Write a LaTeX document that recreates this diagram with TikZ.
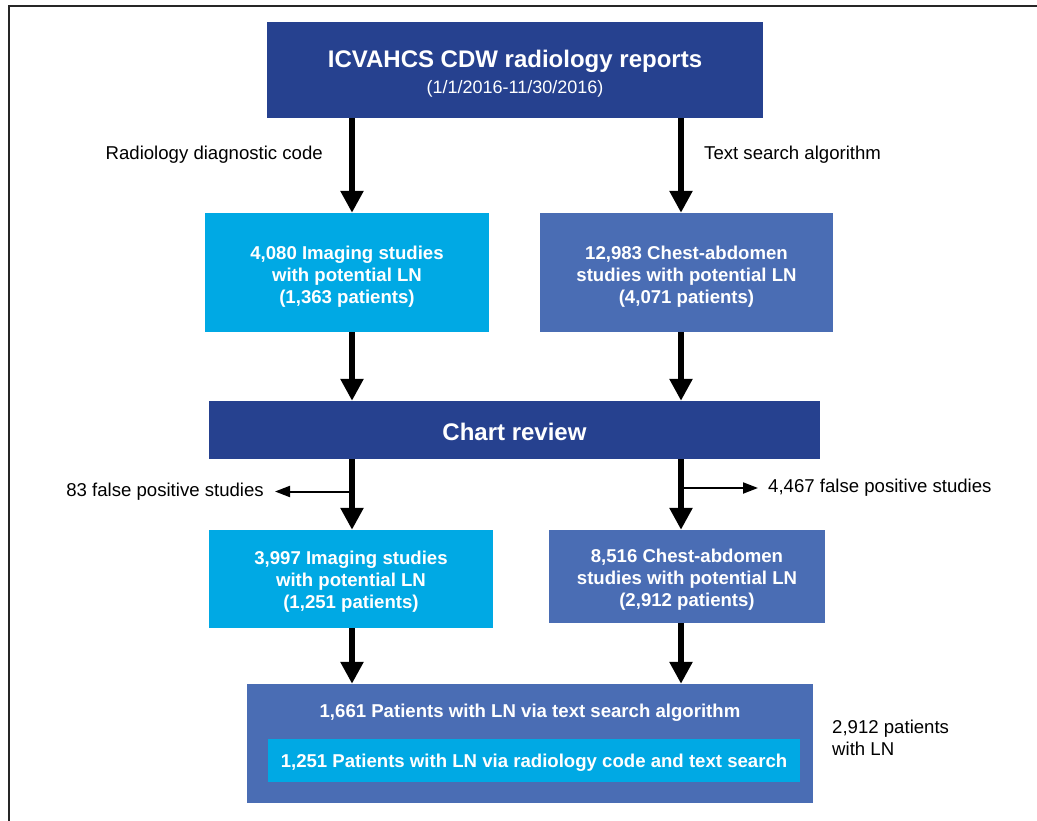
\documentclass[tikz,border=0pt]{standalone}
\usepackage{fontspec}
\setmainfont{Liberation Sans}
\usepackage{xcolor}
\usepackage{tikz}
\usetikzlibrary{arrows.meta,positioning}
\definecolor{navy}{HTML}{26418F}
\definecolor{aqua}{HTML}{00A9E4}
\definecolor{steel}{HTML}{4A6DB4}
\newcommand{\topstrut}[1]{\rule{0pt}{#1}}
\tikzset{
  box/.style={fill=#1,text=white,align=center,inner sep=0pt,
    font=\bfseries\fontsize{18.6}{22}\selectfont},
  flow/.style={line width=6pt,-{Triangle[length=22pt,width=22pt]}},
  side/.style={line width=2pt,-{Triangle[length=15pt,width=11pt]}},
  note/.style={inner sep=0pt,font=\fontsize{18.6}{22}\selectfont}
}

\begin{document}
\begin{tikzpicture}[x=1pt,y=-1pt]
  \useasboundingbox (0,0) rectangle (1037,821);
  \draw[line width=1.6pt,black!85] (9,821) -- (9,6) -- (1037,6);

  \node[box=navy,minimum width=496pt,minimum height=96pt] (src) at (515,70)
    {\fontsize{24}{28}\selectfont\topstrut{24.5pt}ICVAHCS CDW radiology reports\\[4pt]
     {\mdseries\fontsize{18}{20}\selectfont (1/1/2016-11/30/2016)}};

  \node[box=aqua,minimum width=284pt,minimum height=119pt] (codeA) at (347,272.5)
    {\topstrut{22pt}4,080 Imaging studies\\with potential LN\\(1,363 patients)};
  \node[box=steel,minimum width=293pt,minimum height=119pt] (textA) at (686.5,272.5)
    {\topstrut{22pt}12,983 Chest-abdomen\\studies with potential LN\\(4,071 patients)};

  \node[box=navy,minimum width=611pt,minimum height=58pt] (review) at (514.5,430)
    {\fontsize{24}{28}\selectfont\topstrut{21pt}Chart review};

  \node[box=aqua,minimum width=284pt,minimum height=98pt] (codeB) at (351,579)
    {\topstrut{19.5pt}3,997 Imaging studies\\with potential LN\\(1,251 patients)};
  \node[box=steel,minimum width=276pt,minimum height=93pt] (textB) at (687,576.5)
    {\topstrut{19.5pt}8,516 Chest-abdomen\\studies with potential LN\\(2,912 patients)};

  \node[box=steel,minimum width=566pt,minimum height=119pt] (final) at (530,743.5) {};
  \node[box=steel] (viaText) at (530,713)
    {1,661 Patients with LN via text search algorithm};
  \node[box=aqua,minimum width=532pt,minimum height=43pt] (viaBoth) at (534,760.5)
    {\topstrut{17.5pt}1,251 Patients with LN via radiology code and text search};

  \coordinate (colL) at (352,0);
  \coordinate (colR) at (681,0);

  \draw[flow] (src.south -| colL) -- (codeA.north -| colL);
  \draw[flow] (src.south -| colR) -- (textA.north -| colR);
  \draw[flow] (codeA.south -| colL) -- (review.north -| colL);
  \draw[flow] (textA.south -| colR) -- (review.north -| colR);
  \draw[flow] (review.south -| colL) -- (codeB.north -| colL);
  \draw[flow] (review.south -| colR) -- (textB.north -| colR);
  \draw[flow] (codeB.south -| colL) -- (final.north -| colL);
  \draw[flow] (textB.south -| colR) -- (final.north -| colR);

  \node[note,anchor=east] (codeLbl) at (323,155) {Radiology diagnostic code};
  \node[note,anchor=west] (textLbl) at (704,155) {Text search algorithm};

  \coordinate (fpLeft) at (352,491.5);
  \coordinate (fpRight) at (681,488);
  \node[note,anchor=east] (fpA) at (264,492) {83 false positive studies};
  \node[note,anchor=west] (fpB) at (768,488) {4,467 false positive studies};
  \draw[side,shorten >=11pt] (fpLeft) -- (fpA.east |- fpLeft);
  \draw[side,shorten >=10pt] (fpRight) -- (fpB.west |- fpRight);

  \node[note,anchor=north west,align=left] (total) at (832,720)
    {2,912 patients\\with LN};
\end{tikzpicture}
\end{document}
